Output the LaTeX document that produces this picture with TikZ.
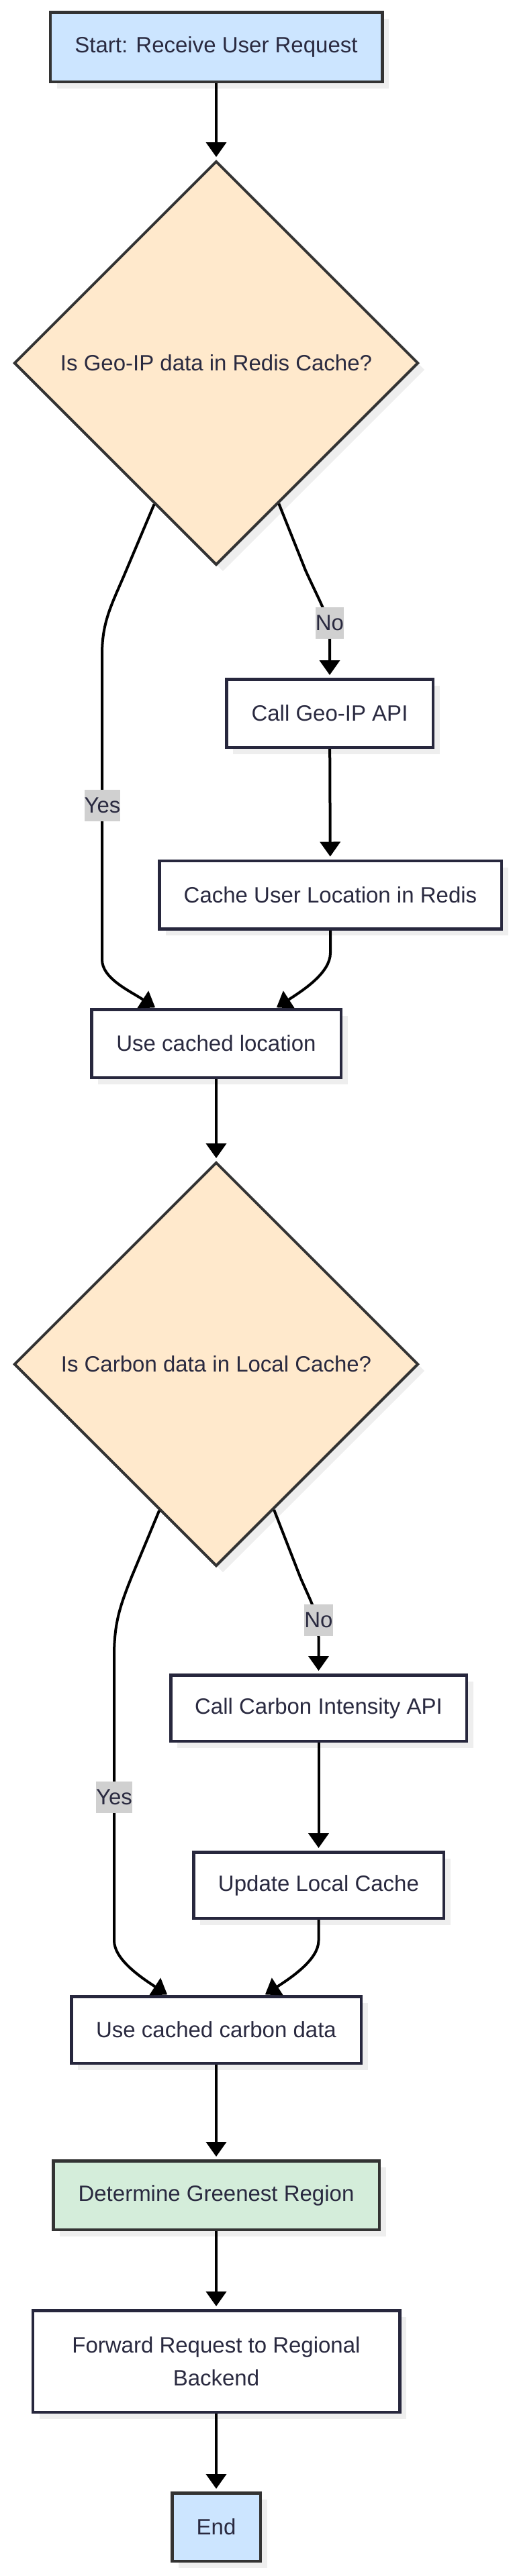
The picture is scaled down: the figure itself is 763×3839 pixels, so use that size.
\documentclass[tikz,border=0pt]{standalone}
\usepackage{fontspec}
\setmainfont{Liberation Sans}
\usetikzlibrary{arrows.meta,shapes.geometric,shadows,calc}
\definecolor{txt}{HTML}{2A2A40}
\definecolor{navy}{HTML}{27273D}
\definecolor{darkb}{HTML}{333333}
\definecolor{shadowc}{HTML}{EEEEEE}
\definecolor{bluef}{HTML}{CCE5FF}
\definecolor{peach}{HTML}{FFE9CC}
\definecolor{greenf}{HTML}{D4EDDA}
\definecolor{lblgray}{HTML}{D0D0D0}
\begin{document}
\begin{tikzpicture}[x=1pt,y=-1pt,
  every node/.style={font=\fontsize{33}{49}\selectfont, text=txt},
  shad/.style={drop shadow={shadow xshift=10pt,shadow yshift=-10pt,fill=shadowc,opacity=1,draw=none}},
  plainbox/.style={rectangle, draw=navy, line width=4.5pt, fill=white, shad, inner sep=0pt, minimum height=101.5pt},
  colbox/.style={rectangle, draw=darkb, line width=4.5pt, shad, inner sep=0pt, minimum height=102.5pt},
  decision/.style={diamond, aspect=1, draw=darkb, line width=4pt, fill=peach, shad, inner sep=0pt, minimum width=602pt, minimum height=602pt},
  lbl/.style={rectangle, fill=lblgray, inner sep=0pt, minimum height=47pt, minimum width=0pt},
  conn/.style={draw=black, line width=4pt, -{Triangle[length=22pt,width=30pt]}},
  straight/.style={conn, shorten >=4pt}
]
\useasboundingbox (0,0) rectangle (763,3839);

% nodes
\node[colbox, fill=bluef, minimum width=494.5pt, minimum height=103.5pt] (start) at (322,70) {Start: Receive User Request};
\node[decision] (d1) at (322,541) {Is Geo-IP data in Redis Cache?};
\node[plainbox, minimum width=307.5pt] (geo) at (491,1063) {Call Geo-IP API};
\node[plainbox, minimum width=509.5pt] (cacheloc) at (492,1333.5) {Cache User Location in Redis};
\node[plainbox, minimum width=371.5pt] (ucl) at (322,1555) {Use cached location};
\node[decision] (d2) at (322,2033) {Is Carbon data in Local Cache?};
\node[plainbox, minimum width=440.5pt, minimum height=98.5pt] (capi) at (474.5,2545.5) {Call Carbon Intensity API};
\node[plainbox, minimum width=372.5pt, minimum height=98.5pt] (upd) at (474.5,2809.5) {Update Local Cache};
\node[plainbox, minimum width=431.5pt, minimum height=99.5pt] (uccd) at (322,3025) {Use cached carbon data};
\node[colbox, fill=greenf, minimum width=485.5pt] (green) at (322,3271.5) {Determine Greenest Region};
\node[plainbox, minimum width=546.5pt, minimum height=151.5pt, align=center] (fwd) at (322,3519) {Forward Request to Regional\\Backend};
\node[colbox, fill=bluef, minimum width=131.5pt, minimum height=101.5pt] (end) at (322,3766) {End};

% straight connectors
\draw[straight] (start) -- (d1);
\draw[straight] (geo) -- (cacheloc);
\draw[straight] (ucl) -- (d2);
\draw[straight] (capi) -- (upd);
\draw[straight] (uccd) -- (green);
\draw[straight] (green) -- (fwd);
\draw[straight] (fwd) -- (end);

% first decision
\draw[conn, shorten >=1pt] ($(d1.south)!0.305!(d1.west)$) -- (188,850)
  .. controls (167,900) and (152,925) .. (152,975) -- (152,1430)
  .. controls (152,1458) and (192,1476) .. ($(ucl.north)+(-90,0)$);
\draw[straight] ($(d1.south)!0.308!(d1.east)$) -- (455,850)
  .. controls (480,905) and (491,920) .. (491,950) -- (geo.north);
\draw[conn, shorten >=1pt] (cacheloc.south) -- (492,1420)
  .. controls (492,1450) and (451,1476) .. ($(ucl.north)+(89,0)$);
\node[lbl] (yes1) at (152.5,1200) {Yes};
\node[lbl] (no1) at (491,928) {No};

% second decision
\draw[conn, shorten >=1pt] ($(d2.south)!0.28!(d2.west)$) -- (196,2350)
  .. controls (178,2395) and (170,2420) .. (170,2468) -- (170,2892)
  .. controls (170,2920) and (210,2947) .. ($(uccd.north)+(-72,0)$);
\draw[straight] ($(d2.south)!0.284!(d2.east)$) -- (447,2350)
  .. controls (465,2392) and (474.5,2405) .. (474.5,2440) -- (capi.north);
\draw[conn, shorten >=1pt] (upd.south) -- (474.5,2892)
  .. controls (474.5,2920) and (434,2947) .. ($(uccd.north)+(72,0)$);
\node[lbl] (yes2) at (170,2678) {Yes};
\node[lbl] (no2) at (474.5,2414) {No};
\end{tikzpicture}
\end{document}
